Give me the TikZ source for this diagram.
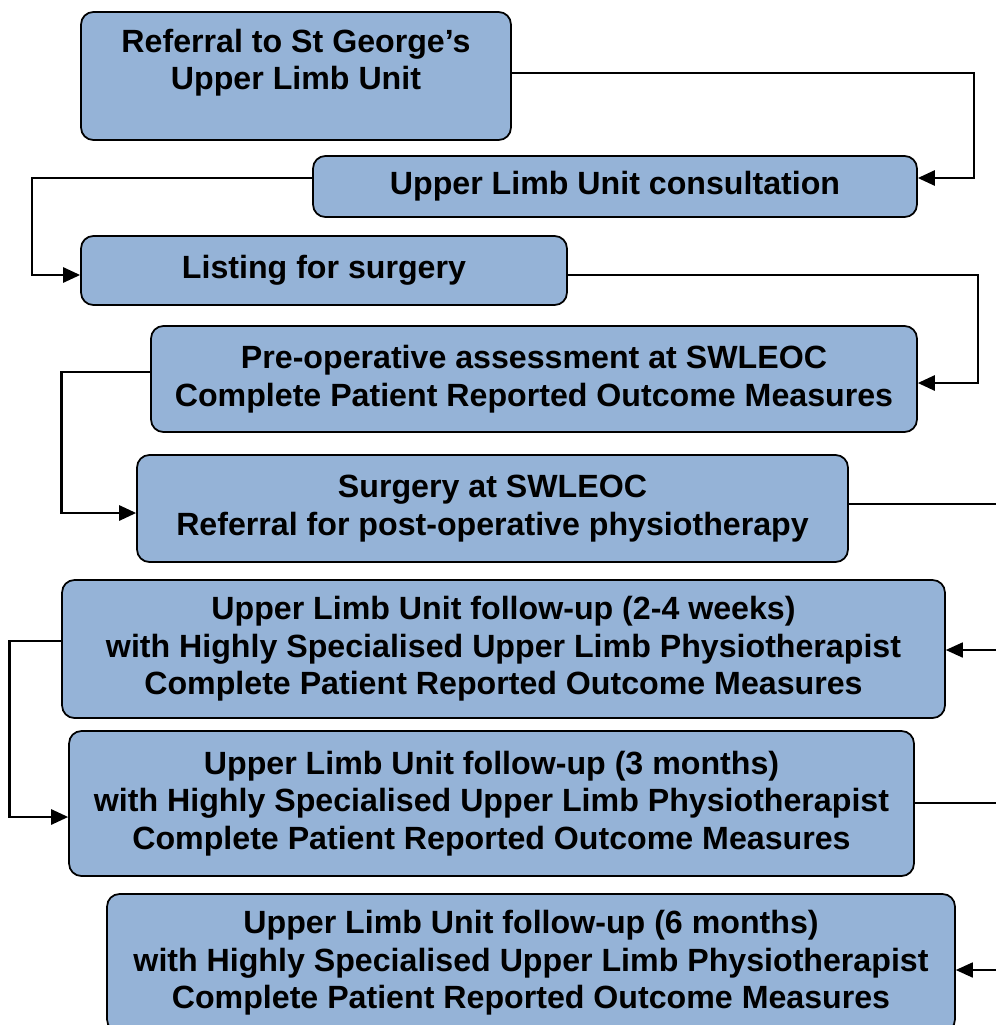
\documentclass[tikz,border=0pt]{standalone}
\usepackage{fontspec}
\setmainfont{Liberation Sans}
\definecolor{cajaazul}{RGB}{149, 179, 215}
\usetikzlibrary{arrows.meta, calc}

\begin{document}
\begin{tikzpicture}[
          x=0.02cm, y=-0.02cm,
          box/.style={draw=black, fill=cajaazul, rounded corners=7pt, line width=1pt,
                      font=\fontsize{18.3}{21.4}\selectfont\bfseries, align=center, inner sep=2pt},
          flow/.style={line width=1.5pt, -{Triangle[length=0.34cm, width=0.3cm]}},
          flowthin/.style={flow, line width=1pt}
        ]
        \clip (0,0) rectangle (996,1025);
        \node[box, minimum width=8.6cm, minimum height=2.56cm, text depth=0.66cm] (ref) at (296,76)
             {Referral to St George’s\\Upper Limb Unit};
        \node[box, minimum width=12.08cm, minimum height=1.22cm] (cons) at (615,186.5)
             {Upper Limb Unit consultation};
        \node[box, minimum width=9.72cm, minimum height=1.38cm] (list) at (324,270.5)
             {Listing for surgery};
        \node[box, minimum width=15.32cm, minimum height=2.12cm] (preop) at (534,379)
             {Pre-operative assessment at SWLEOC\\Complete Patient Reported Outcome Measures};
        \node[box, minimum width=14.22cm, minimum height=2.14cm] (surg) at (492.5,508.5)
             {Surgery at SWLEOC\\Referral for post-operative physiotherapy};
        \node[box, minimum width=17.66cm, minimum height=2.76cm] (fuA) at (503.5,649)
             {Upper Limb Unit follow-up (2-4 weeks)\\with Highly Specialised Upper Limb Physiotherapist\\Complete Patient Reported Outcome Measures};
        \node[box, minimum width=16.9cm, minimum height=2.9cm] (fuB) at (491.5,803.5)
             {Upper Limb Unit follow-up (3 months)\\with Highly Specialised Upper Limb Physiotherapist\\Complete Patient Reported Outcome Measures};
        \node[box, minimum width=16.96cm, minimum height=2.76cm] (fuC) at (531,963)
             {Upper Limb Unit follow-up (6 months)\\with Highly Specialised Upper Limb Physiotherapist\\Complete Patient Reported Outcome Measures};
        % connectors, alternating sides
        \draw[flow] ([yshift=0.06cm]ref.east) -- ++(462,0) |- ([yshift=0.17cm]cons.east);
        \draw[flow] ([yshift=0.17cm]cons.west) -- ++(-280,0) |- ([yshift=-0.09cm]list.west);
        \draw[flow] ([yshift=-0.09cm]list.east) -- ++(410,0) |- ([yshift=-0.08cm]preop.east);
        \draw[flow] ([yshift=0.14cm]preop.west) -- ++(-89,0) |- ([yshift=-0.09cm]surg.west);
        \draw[flowthin] ([yshift=0.09cm]surg.east) -- ++(172,0) |- ([yshift=-0.02cm]fuA.east);
        \draw[flow] ([yshift=0.16cm]fuA.west) -- ++(-52,0) |- ([yshift=-0.27cm]fuB.west);
        \draw[flowthin] ([yshift=0.01cm]fuB.east) -- ++(102,0) |- ([yshift=-0.14cm]fuC.east);
      \end{tikzpicture}
\end{document}
